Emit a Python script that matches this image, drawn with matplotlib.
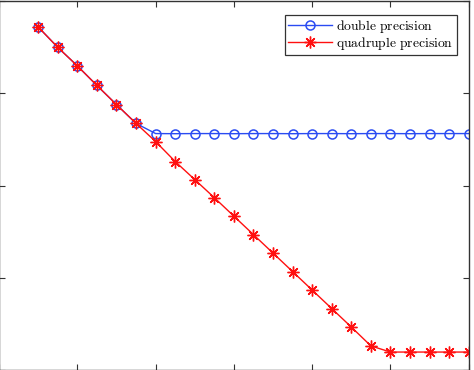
import matplotlib
matplotlib.use("Agg")
import matplotlib.pyplot as plt
import numpy as np

plt.rcParams['mathtext.fontset'] = 'cm'

# iteration number and error (log scale)
n = list(range(2, 25))
err_double = [3.8e-2, 3.0e-3, 3.0e-4, 2.6e-5, 2.4e-6, 2.3e-7,
              6.5e-8, 6.4e-8, 6.5e-8, 6.5e-8, 6.4e-8, 6.5e-8, 6.5e-8, 6.4e-8,
              6.5e-8, 6.5e-8, 6.4e-8, 6.5e-8, 6.5e-8, 6.4e-8, 6.5e-8, 6.5e-8, 6.5e-8]
err_quad = [3.8e-2, 3.0e-3, 3.0e-4, 2.6e-5, 2.4e-6, 2.3e-7,
            2.4e-8, 2.0e-9, 2.1e-10, 2.2e-11, 2.2e-12, 2.2e-13, 2.2e-14,
            2.2e-15, 2.2e-16, 2.2e-17, 2.2e-18, 2.1e-19,
            9.8e-20, 9.8e-20, 9.8e-20, 9.8e-20, 9.8e-20]

labels = [r'$\mathrm{double\ precision}$', r'$\mathrm{quadruple\ precision}$']

fig = plt.figure(figsize=(4.74, 3.70), dpi=100)
ax = fig.add_axes([-0.002, -0.001, 0.991, 0.999])

ax.plot(n, err_double, '-o', color='#2a4bf2', lw=1.0, ms=6.5, mfc='none',
        mew=1.1, label=labels[0])
ax.plot(n, err_quad, '-', color='#ff1010', lw=1.0, marker=(8, 2, 0), ms=8.5,
        mew=1.0, label=labels[1])

ax.set_yscale('log')
ax.set_xlim(0, 24)
ax.set_ylim(1e-20, 1e0)
ax.set_xticks(range(0, 25, 4))
ax.set_yticks([1e0, 1e-5, 1e-10, 1e-15, 1e-20])
ax.minorticks_off()
ax.set_xticklabels([])
ax.set_yticklabels([])
ax.tick_params(direction='in', top=True, right=True, length=4, width=0.8,
               color='#333333')
for s in ax.spines.values():
    s.set_color('#333333')
    s.set_linewidth(1.0)

leg = ax.legend(loc='upper right', fontsize=9.8, fancybox=False,
                framealpha=1, edgecolor='#333333', borderpad=0.22,
                handlelength=3.2, handletextpad=0.35, labelspacing=0.0,
                borderaxespad=0.0, bbox_to_anchor=(0.974, 0.962))
leg.get_frame().set_linewidth(0.9)

fig.savefig('out.png', dpi=100)
